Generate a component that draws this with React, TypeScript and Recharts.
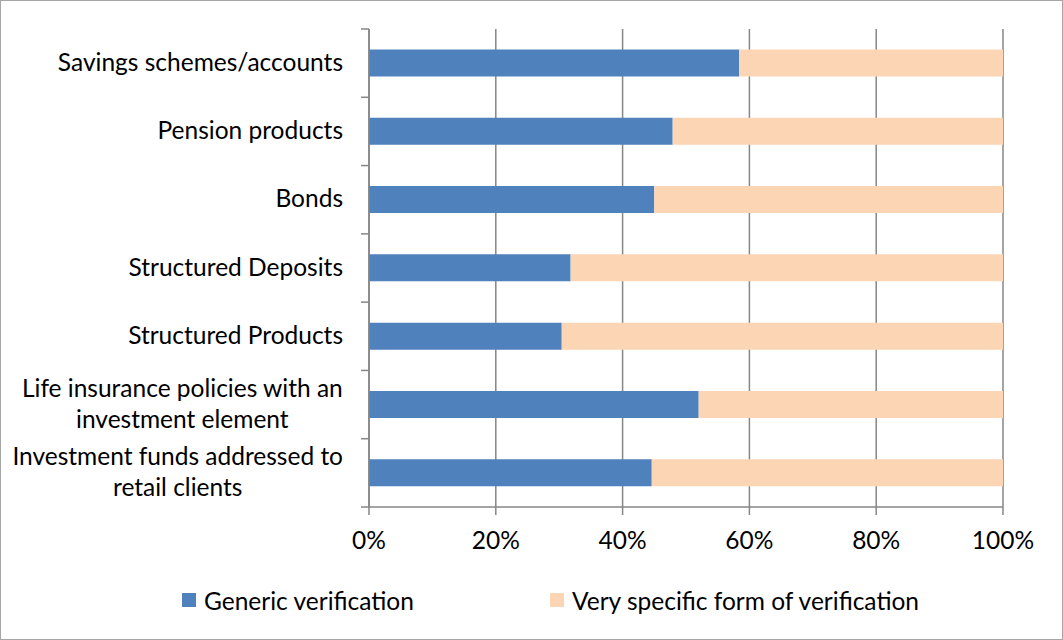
import React from 'react';
import { BarChart, Bar, XAxis, YAxis, CartesianGrid, Legend } from 'recharts';

const categories = [
  'Savings schemes/accounts',
  'Pension products',
  'Bonds',
  'Structured Deposits',
  'Structured Products',
  'Life insurance policies with an\ninvestment element',
  'Investment funds addressed to\nretail clients',
];
const genericVerification = [58.4, 47.9, 45.0, 31.8, 30.4, 52.0, 44.6];
const specificVerification = [41.6, 52.1, 55.0, 68.2, 69.6, 48.0, 55.4];
const seriesNames = ['Generic verification', 'Very specific form of verification'];
const xTicks = [0, 20, 40, 60, 80, 100];

const data = categories.map((c, i) => ({
  name: c,
  generic: genericVerification[i],
  specific: specificVerification[i],
}));

const W = 1061;
const H = 638;
const MARGIN = { top: 28, right: 59, left: 0, bottom: 32 };
const XAXIS_H = 60;
const LEGEND_H = 40;
const PLOT_H = H - MARGIN.top - MARGIN.bottom - XAXIS_H - LEGEND_H;
const BAND = PLOT_H / categories.length;
const FONT = 'Lato, "Open Sans", sans-serif';
const FS = 24.5;
const AXIS_COLOR = '#868686';
const COLORS = ['#4F81BD', '#FCD5B5'];

let ctx: CanvasRenderingContext2D | null = null;
const measure = (s: string) => {
  if (!ctx) {
    const c = document.createElement('canvas');
    ctx = c.getContext('2d');
  }
  if (!ctx) return s.length * FS * 0.48;
  ctx.font = `${FS}px Lato`;
  return ctx.measureText(s).width;
};

const CategoryTick = (props: any) => {
  const { x, y, payload, index } = props;
  const lines = String(payload.value).split('\n');
  const last = index === categories.length - 1;
  const lh = 31;
  const textRight = x - 26;
  let anchorX = textRight;
  let anchor: 'end' | 'middle' = 'end';
  if (lines.length > 1) {
    const maxW = Math.max(...lines.map(measure));
    anchorX = textRight - maxW / 2;
    anchor = 'middle';
  }
  const startY = y - 1 - ((lines.length - 1) * lh) / 2;
  return (
    <g>
      <line x1={x - 8} x2={x} y1={y - BAND / 2} y2={y - BAND / 2} stroke={AXIS_COLOR} strokeWidth={1.5} />
      {last && <line x1={x - 8} x2={x} y1={y + BAND / 2} y2={y + BAND / 2} stroke={AXIS_COLOR} strokeWidth={1.5} />}
      <text textAnchor={anchor} fontSize={FS} fontFamily={FONT} fill="#000">
        {lines.map((l, i) => (
          <tspan key={i} x={anchorX} y={startY + i * lh} dy="0.35em">
            {l}
          </tspan>
        ))}
      </text>
    </g>
  );
};

const LegendContent = (props: any) => {
  const payload = props.payload || [];
  const lefts = [181, 549];
  return (
    <div style={{ position: 'relative', width: W, height: LEGEND_H, fontFamily: FONT, fontSize: FS, color: '#000' }}>
      {payload.map((p: any, i: number) => (
        <div
          key={i}
          style={{ position: 'absolute', left: lefts[i], top: 0, height: LEGEND_H, display: 'flex', alignItems: 'center', whiteSpace: 'nowrap' }}
        >
          <span style={{ display: 'inline-block', width: 14, height: 14, background: p.color, marginRight: 8 }} />
          <span>{p.value}</span>
        </div>
      ))}
    </div>
  );
};

export default function App() {
  return (
    <div
      style={{
        position: 'absolute',
        left: 0,
        top: 0,
        width: 1063,
        height: 640,
        border: '1px solid #a6a6a6',
        boxSizing: 'border-box',
        background: '#fff',
      }}
    >
      <BarChart width={W} height={H} data={data} layout="vertical" margin={MARGIN} barCategoryGap="30%">
        <CartesianGrid horizontal={false} stroke={AXIS_COLOR} strokeWidth={1.5} />
        <XAxis
          type="number"
          domain={[0, 100]}
          ticks={xTicks}
          interval={0}
          height={XAXIS_H}
          tickFormatter={(v: number) => `${v}%`}
          axisLine={{ stroke: AXIS_COLOR, strokeWidth: 1.5 }}
          tickLine={{ stroke: AXIS_COLOR, strokeWidth: 1.5 }}
          tickSize={8}
          tickMargin={17}
          tick={{ fill: '#000', fontSize: FS, fontFamily: FONT }}
        />
        <YAxis
          type="category"
          dataKey="name"
          width={368}
          interval={0}
          axisLine={{ stroke: AXIS_COLOR, strokeWidth: 1.5 }}
          tickLine={false}
          tickSize={0}
          tickMargin={0}
          tick={<CategoryTick />}
        />
        <Legend
          verticalAlign="bottom"
          content={<LegendContent />}
          wrapperStyle={{ left: 0, top: 579, bottom: 'auto', width: W, height: LEGEND_H }}
        />
        <Bar dataKey="generic" name={seriesNames[0]} stackId="a" fill={COLORS[0]} isAnimationActive={false} />
        <Bar dataKey="specific" name={seriesNames[1]} stackId="a" fill={COLORS[1]} isAnimationActive={false} />
      </BarChart>
    </div>
  );
}
